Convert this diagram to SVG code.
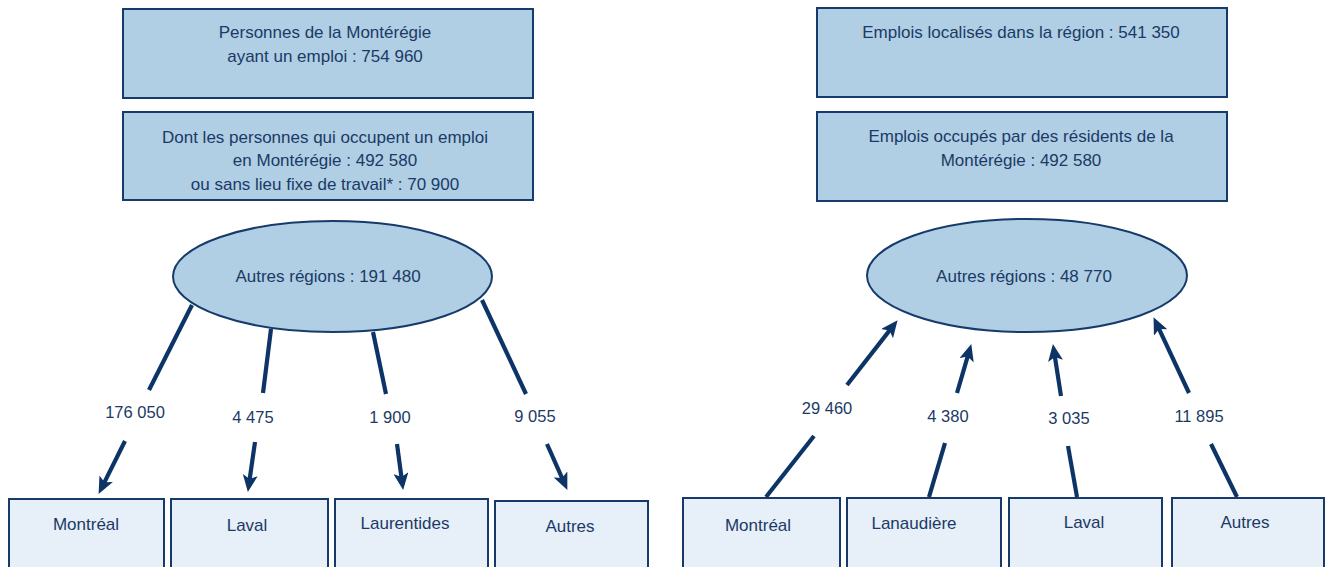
<svg xmlns="http://www.w3.org/2000/svg" width="1331" height="567" viewBox="0 0 1331 567">
<defs>
<style>
.top{fill:#b0cee4;stroke:#163b6b;stroke-width:2}
.bot{fill:#e7eff8;stroke:#163b6b;stroke-width:2}
.ell{fill:#b0cee4;stroke:#163b6b;stroke-width:2}
text{font-family:"Liberation Sans",Arial,sans-serif;font-size:17px;fill:#1b3a66;text-anchor:middle}
.num{font-size:16.5px}
.con line{stroke:#0d3466;stroke-width:4.2;fill:none}
.arr{marker-end:url(#ah)}
</style>
<marker id="ah" markerUnits="userSpaceOnUse" viewBox="0 0 17 15" markerWidth="17" markerHeight="15" refX="6" refY="7.5" orient="auto">
<path d="M0,0 L17,7.5 L0,15 L4,7.5 z" fill="#0d3466"/>
</marker>
</defs>
<rect width="1331" height="567" fill="#ffffff"/>

<g id="boxL1"><rect class="top" x="123" y="9" width="410" height="89"/>
<text x="325" y="38">Personnes de la Montérégie</text>
<text x="325" y="62">ayant un emploi : 754 960</text></g>
<g id="boxL2"><rect class="top" x="123" y="112" width="410" height="88"/>
<text x="325" y="143">Dont les personnes qui occupent un emploi</text>
<text x="325" y="166">en Montérégie : 492 580</text>
<text x="325" y="190">ou sans lieu fixe de travail* : 70 900</text></g>
<g id="boxR1"><rect class="top" x="817" y="8" width="410" height="89"/>
<text x="1021" y="38">Emplois localisés dans la région : 541 350</text></g>
<g id="boxR2"><rect class="top" x="817" y="112" width="410" height="89"/>
<text x="1021" y="142">Emplois occupés par des résidents de la</text>
<text x="1021" y="166">Montérégie : 492 580</text></g>

<g id="ellL"><ellipse class="ell" cx="332.5" cy="276.5" rx="159.5" ry="55.5"/>
<text x="328" y="282">Autres régions : 191 480</text></g>
<g id="ellR"><ellipse class="ell" cx="1027" cy="275.5" rx="160" ry="56.5"/>
<text x="1024" y="282">Autres régions : 48 770</text></g>

<g id="botL1"><rect class="bot" x="9" y="499" width="155" height="80"/><text x="86" y="530">Montréal</text></g>
<g id="botL2"><rect class="bot" x="171" y="499" width="157" height="80"/><text x="247" y="531">Laval</text></g>
<g id="botL3"><rect class="bot" x="335" y="499" width="153" height="80"/><text x="405" y="529">Laurentides</text></g>
<g id="botL4"><rect class="bot" x="495" y="501" width="153" height="80"/><text x="570" y="532">Autres</text></g>
<g id="botR1"><rect class="bot" x="683" y="498" width="157" height="80"/><text x="758" y="531">Montréal</text></g>
<g id="botR2"><rect class="bot" x="847" y="498" width="154" height="80"/><text x="914" y="529">Lanaudière</text></g>
<g id="botR3"><rect class="bot" x="1009" y="498" width="153" height="80"/><text x="1084" y="528">Laval</text></g>
<g id="botR4"><rect class="bot" x="1172" y="498" width="152" height="80"/><text x="1245" y="528">Autres</text></g>

<g id="connectors" class="con">
<line x1="192" y1="305" x2="149" y2="390"/>
<line class="arr" x1="125" y1="441" x2="103.5" y2="484.1"/>
<line x1="271" y1="329" x2="263" y2="393"/>
<line class="arr" x1="255" y1="442" x2="249.4" y2="481.1"/>
<line x1="373" y1="332" x2="386" y2="394"/>
<line class="arr" x1="397" y1="444" x2="401.7" y2="479.1"/>
<line x1="482" y1="300" x2="526" y2="394"/>
<line class="arr" x1="547" y1="444" x2="562.9" y2="479.9"/>

<line x1="766" y1="497" x2="814" y2="436"/>
<line class="arr" x1="847" y1="385" x2="890.8" y2="328.9"/>
<line x1="929" y1="497" x2="945" y2="443"/>
<line class="arr" x1="957" y1="393" x2="968.2" y2="354.6"/>
<line x1="1077" y1="497" x2="1068" y2="446"/>
<line class="arr" x1="1061" y1="396" x2="1054.6" y2="354.9"/>
<line x1="1237" y1="497" x2="1211" y2="444"/>
<line class="arr" x1="1189" y1="393" x2="1158.2" y2="327.1"/>
</g>

<g id="labels">
<text class="num" x="135" y="418">176 050</text>
<text class="num" x="253" y="423">4 475</text>
<text class="num" x="390" y="423">1 900</text>
<text class="num" x="535" y="422">9 055</text>
<text class="num" x="827" y="414">29 460</text>
<text class="num" x="948" y="422">4 380</text>
<text class="num" x="1069" y="424">3 035</text>
<text class="num" x="1199" y="422">11 895</text>
</g>
</svg>
